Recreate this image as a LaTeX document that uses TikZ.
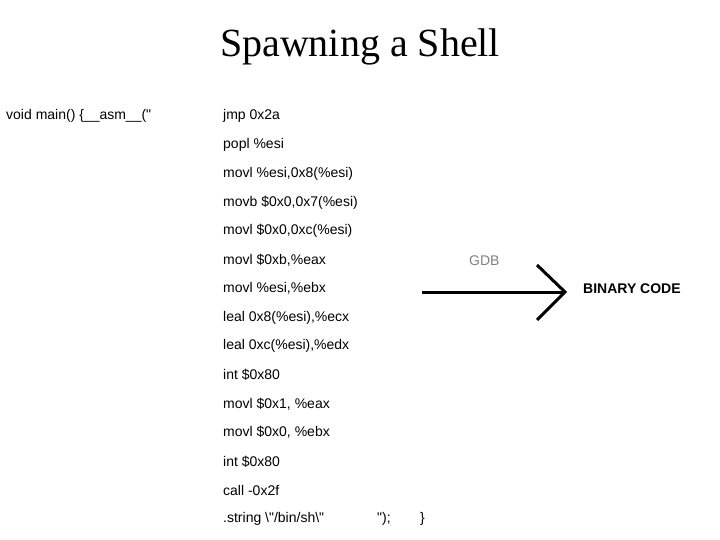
\documentclass[tikz,border=0pt]{standalone}
\usepackage{fontspec}
\setmainfont{Liberation Serif}
\newfontfamily\arial{Liberation Sans}
\begin{document}
\begin{tikzpicture}[x=1pt,y=-1pt,
  code/.style={anchor=west,inner sep=0pt,font=\arial\fontsize{14}{14}\selectfont}]
\useasboundingbox[fill=white] (0,0) rectangle (720,540);
\node[font=\fontsize{40}{40}\selectfont] (title) at (360,47) {Spawning a Shell};
\node[code] (pre) at (6,116) {void main() \{\_\_asm\_\_("};
\foreach \t [count=\i] in {jmp 0x2a,popl \%esi,{movl \%esi,0x8(\%esi)},{movb \$0x0,0x7(\%esi)},{movl \$0x0,0xc(\%esi)},{movl \$0xb,\%eax},{movl \%esi,\%ebx},{leal 0x8(\%esi),\%ecx},{leal 0xc(\%esi),\%edx},int \$0x80,{movl \$0x1, \%eax},{movl \$0x0, \%ebx},int \$0x80,call -0x2f,{.string \textbackslash"/bin/sh\textbackslash"}}
  \node[code] (l\i) at (223,{116+(\i-1)*28.78}) {\t};
\node[code] (q) at (377,519) {");};
\node[code] (b) at (420,519) {\}};
\begin{scope}
\clip (440,240) rectangle (540,265);
\node[code,text=gray] (gdb) at (469,261) {GDB};
\end{scope}
\coordinate (s) at (422,292);
\coordinate (tip) at (565,292);
\draw[line width=3pt] (s) -- (tip);
\draw[line width=3pt] (537,265) -- (tip) -- (537,320);
\node[code,font=\arial\bfseries\fontsize{14}{14}\selectfont] (bin) at (583,289) {BINARY CODE};
\end{tikzpicture}
\end{document}
